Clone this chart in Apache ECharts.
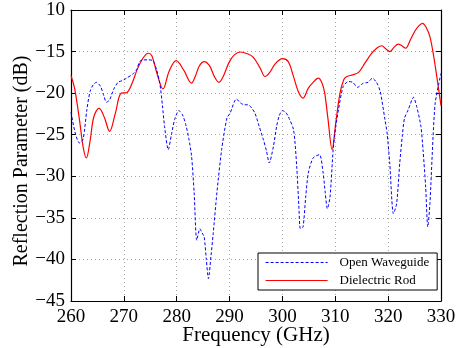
<!DOCTYPE html>
<html>
<head>
<meta charset="utf-8">
<script src="https://cdn.jsdelivr.net/npm/echarts@6/dist/echarts.min.js"></script>
<style>
  html, body { margin: 0; padding: 0; background: #fff; }
  #chart { width: 456px; height: 348px; }
</style>
</head>
<body>
<div id="chart"></div>
<script>
// Frequency sweep, GHz, and reflection parameter, dB
const freqWaveguide = [
  260.0, 260.8, 261.6, 262.3, 263.0, 263.6, 264.2, 264.8, 265.6, 266.2, 266.7, 267.3,
  268.1, 268.9, 269.7, 270.5, 271.7, 272.4, 273.0, 273.6, 274.6, 275.5, 276.2, 276.8,
  277.3, 277.7, 278.4, 279.0, 279.6, 280.4, 281.1, 281.8, 282.3, 282.8, 283.3, 283.8,
  284.4, 284.8, 285.2, 285.6, 286.0, 286.5, 286.9, 287.6, 288.5, 289.5, 290.1, 291.3,
  292.1, 292.8, 293.5, 294.2, 294.8, 295.6, 296.4, 297.0, 297.5, 298.3, 298.9, 299.4,
  300.0, 300.6, 301.1, 302.1, 302.7, 303.1, 303.4, 303.9, 304.4, 304.9, 305.8, 307.0,
  307.7, 308.1, 308.5, 309.0, 309.6, 310.1, 310.6, 311.5, 312.5, 313.3, 314.2, 315.3,
  316.2, 317.0, 317.8, 318.5, 319.4, 319.8, 320.3, 321.0, 321.6, 322.2, 322.7, 323.1,
  323.8, 324.8, 325.4, 326.2, 326.6, 327.1, 327.5, 327.9, 328.5, 328.9, 329.6, 330.0
];
const valWaveguide = [
  -22.3, -24.8, -26.0, -25.5, -22.0, -19.8, -19.0, -18.7, -19.2, -20.3, -21.1, -20.8,
  -19.5, -18.7, -18.5, -18.2, -17.7, -17.2, -16.2, -16.0, -16.0, -16.1, -17.2, -18.8,
  -21.5, -24.0, -26.8, -25.0, -23.2, -22.1, -22.6, -24.0, -25.5, -27.5, -32.0, -37.7,
  -36.3, -36.8, -37.3, -40.0, -42.3, -39.5, -36.9, -32.0, -26.8, -23.0, -22.4, -20.7,
  -21.2, -21.4, -21.4, -21.8, -22.4, -24.0, -25.6, -27.0, -28.4, -26.4, -24.0, -22.7,
  -22.1, -22.3, -22.8, -24.4, -28.8, -33.5, -36.3, -36.1, -32.5, -29.6, -27.8, -27.4,
  -29.6, -32.0, -33.9, -32.5, -26.8, -24.0, -22.0, -19.2, -18.6, -18.7, -19.3, -18.8,
  -18.7, -18.2, -18.7, -19.8, -23.2, -24.8, -28.4, -34.5, -33.3, -28.4, -25.0, -23.0,
  -22.0, -20.5, -21.6, -24.0, -26.8, -31.3, -36.1, -33.3, -25.2, -21.2, -18.8, -17.6
];

const freqRod = [
  260.0, 260.7, 261.6, 262.3, 262.9, 263.6, 264.3, 265.3, 266.3, 267.3, 268.4, 269.5,
  270.5, 271.5, 272.5, 273.6, 274.6, 275.3, 276.2, 277.4, 278.6, 279.9, 281.3, 282.8,
  283.5, 284.3, 285.2, 286.2, 287.2, 288.0, 288.8, 289.9, 290.9, 292.0, 293.5, 294.5,
  295.8, 296.7, 297.6, 298.6, 300.0, 301.1, 302.0, 303.0, 303.9, 304.9, 305.8, 306.8,
  307.5, 308.0, 308.6, 309.4, 310.1, 310.9, 311.6, 312.2, 313.3, 314.4, 315.6, 316.9,
  318.0, 318.8, 319.6, 320.3, 321.1, 321.9, 322.6, 323.3, 324.2, 325.1, 325.8, 326.5,
  327.2, 327.9, 328.6, 329.2, 330.0
];
const valRod = [
  -17.9, -19.5, -23.2, -26.5, -27.8, -25.8, -22.9, -21.8, -22.9, -24.6, -22.4, -20.0,
  -19.95, -18.9, -17.2, -15.8, -15.2, -15.5, -17.5, -19.5, -17.3, -16.1, -17.2, -18.8,
  -18.0, -16.7, -16.2, -16.7, -18.1, -18.7, -18.0, -16.3, -15.4, -15.05, -15.3, -15.7,
  -17.0, -18.0, -17.5, -16.5, -15.85, -16.2, -17.8, -19.8, -20.6, -19.4, -18.7, -18.2,
  -18.8, -20.0, -23.0, -26.8, -23.5, -20.0, -18.4, -18.0, -17.8, -17.5, -16.4, -15.2,
  -14.5, -14.3, -14.7, -15.0, -14.5, -14.1, -14.3, -14.6, -13.6, -12.5, -11.9, -11.6,
  -12.1, -13.2, -15.5, -18.0, -21.5
];

const yTicks = [-45, -40, -35, -30, -25, -20, -15, -10];
const yTickLabels = ['\u221245', '\u221240', '\u221235', '\u221230', '\u221225', '\u221220', '\u221215', '10'];

const seriesNames = ['Open Waveguide', 'Dielectric Rod'];
const xTitle = 'Frequency (GHz)';
const yTitle = 'Reflection Parameter (dB)';

const pairs = (xs, ys) => xs.map((x, i) => [x, ys[i]]);

const FONT = 'Liberation Serif';
const gridLine = { show: true, lineStyle: { color: '#a8a8a8', type: [1, 3], width: 1 } };
const boxLine = { show: true, onZero: false, lineStyle: { color: '#000', width: 1.2 } };
const tickIn = { show: true, inside: true, length: 5, lineStyle: { color: '#000', width: 1 } };

const chart = echarts.init(document.getElementById('chart'), null, { renderer: 'canvas' });

chart.setOption({
  animation: false,
  backgroundColor: '#fff',
  grid: {
    left: 71, right: 15, top: 10, bottom: 47,
    containLabel: false, outerBoundsMode: 'none'
  },
  xAxis: [
    {
      type: 'value', min: 260, max: 330, interval: 10,
      name: xTitle, nameLocation: 'middle', nameGap: 24, nameMoveOverlap: false,
      nameTextStyle: { fontFamily: FONT, fontSize: 21, color: '#000' },
      axisLine: boxLine, axisTick: tickIn, splitLine: gridLine,
      axisLabel: { fontFamily: FONT, fontSize: 19, color: '#000', margin: 7 }
    },
    {
      type: 'value', min: 260, max: 330, interval: 10, position: 'top',
      axisLine: boxLine, axisTick: tickIn, splitLine: { show: false },
      axisLabel: { show: false }
    }
  ],
  yAxis: [
    {
      type: 'value', min: -45, max: -10, interval: 5,
      axisLine: boxLine, axisTick: tickIn, splitLine: gridLine,
      axisLabel: {
        fontFamily: FONT, fontSize: 19, color: '#000', margin: 6,
        formatter: v => yTickLabels[yTicks.indexOf(v)] || ''
      }
    },
    {
      type: 'value', min: -45, max: -10, interval: 5, position: 'right',
      axisLine: boxLine, axisTick: tickIn, splitLine: { show: false },
      axisLabel: { show: false }
    }
  ],
  graphic: [
    {
      type: 'text', x: 22, y: 161, rotation: Math.PI / 2,
      style: {
        text: yTitle, fontFamily: FONT, fontSize: 20, fill: '#000',
        align: 'center', verticalAlign: 'middle'
      }
    }
  ],
  legend: {
    show: true,
    left: 258, top: 253,
    orient: 'vertical',
    backgroundColor: '#fff',
    borderColor: '#000', borderWidth: 1,
    padding: [3, 8, 3, 7],
    itemGap: 5,
    itemWidth: 62, itemHeight: 14,
    itemStyle: { opacity: 0 },
    textStyle: { fontFamily: FONT, fontSize: 13, color: '#000', padding: [0, 0, 0, 7] },
    data: [
      { name: seriesNames[0], lineStyle: { width: 1 } },
      { name: seriesNames[1], lineStyle: { width: 1.2 } }
    ]
  },
  series: [
    {
      name: seriesNames[0], type: 'line', data: pairs(freqWaveguide, valWaveguide),
      symbol: 'none', smooth: 0.25,
      lineStyle: { color: '#0000ff', width: 1, type: [3, 2] },
      itemStyle: { color: '#0000ff' }, z: 3
    },
    {
      name: seriesNames[1], type: 'line', data: pairs(freqRod, valRod),
      symbol: 'none', smooth: 0.35,
      lineStyle: { color: '#ff0000', width: 1.2 },
      itemStyle: { color: '#ff0000' }, z: 2
    }
  ]
});
</script>
</body>
</html>
